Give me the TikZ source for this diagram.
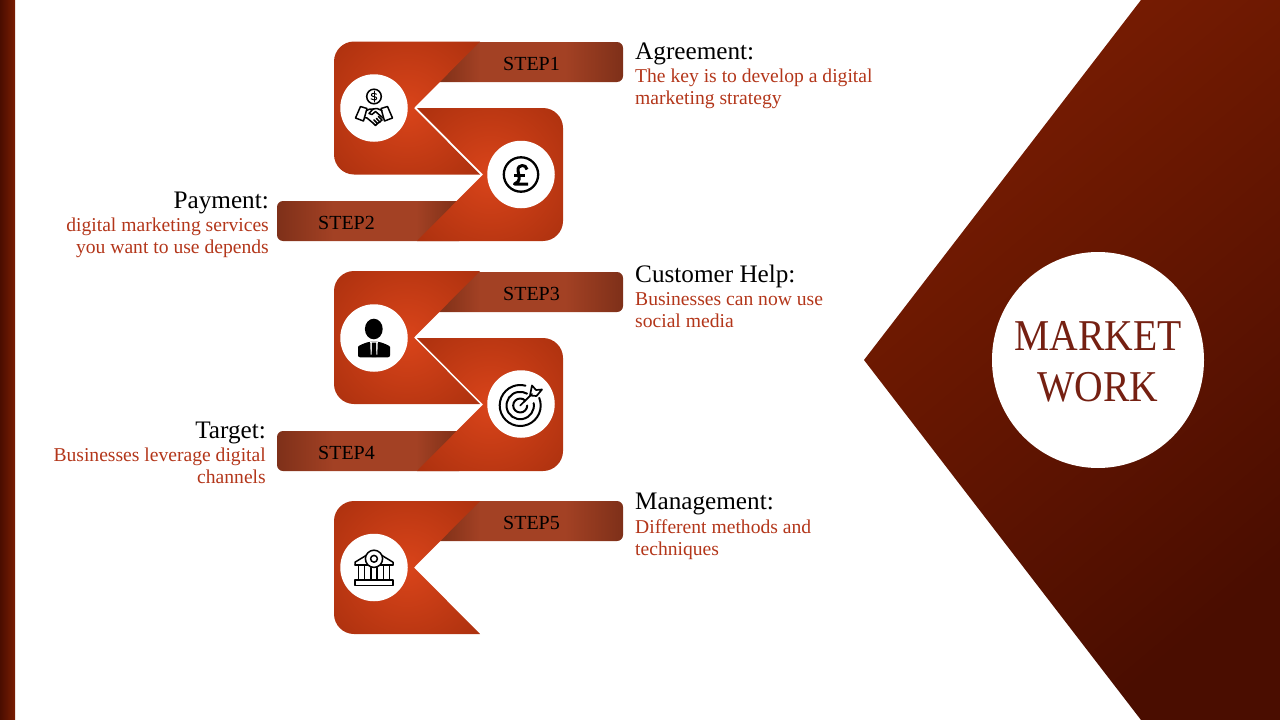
\documentclass[tikz,border=0pt]{standalone}
\usepackage{fontspec}
\setmainfont{Liberation Serif}
\newfontfamily\hubfont[FakeStretch=0.9]{Liberation Serif}
\usetikzlibrary{calc}
\definecolor{stepred}{HTML}{D9441A}
\definecolor{stepdark}{HTML}{AA300E}
\definecolor{barend}{HTML}{7E3019}
\definecolor{barnear}{HTML}{85331A}
\definecolor{barmid}{HTML}{A34124}
\definecolor{bodytext}{HTML}{B3361A}
\definecolor{hubtext}{HTML}{752012}
\definecolor{arrowlight}{HTML}{7A1D02}
\definecolor{arrowmid}{HTML}{651702}
\definecolor{arrowdark}{HTML}{4A0D00}
\pgfdeclarehorizontalshading{stepbar}{100bp}{color(0bp)=(barnear); color(25bp)=(barnear); color(29bp)=(barnear); color(38bp)=(barmid); color(60bp)=(barmid); color(75bp)=(barend); color(100bp)=(barend)}
\pgfdeclareradialshading{stepglow}{\pgfpointorigin}{color(0bp)=(stepred); color(20bp)=(stepdark); color(50bp)=(stepdark)}
\tikzset{
	iconline/.style={line width=1.5pt, draw=black, line join=round, line cap=round},
	iconback/.style={circle, fill=white, inner sep=0pt, minimum size=67.5pt},
	stepname/.style={inner sep=0pt, font=\fontsize{20}{20}\selectfont, text=black},
	headleft/.style={inner sep=0pt, anchor=base west, font=\fontsize{25.2}{25.2}\selectfont, text=black},
	headright/.style={inner sep=0pt, anchor=base east, font=\fontsize{25.2}{25.2}\selectfont, text=black},
	descleft/.style={inner sep=0pt, anchor=north west, align=left, font=\fontsize{19.6}{22}\selectfont, text=bodytext, execute at begin node=\rule{0pt}{14pt}},
	descright/.style={inner sep=0pt, anchor=north east, align=right, font=\fontsize{19.6}{22}\selectfont, text=bodytext, execute at begin node=\rule{0pt}{14pt}}
}
\def\stepblock[#1](#2,#3){\begin{scope}[shift={(#2,#3)},#1]
		\clip (73,-66.5) -- (-53,-66.5) .. controls (-64,-66.5) and (-73,-57.5) .. (-73,-46.5) -- (-73,46.5) .. controls (-73,57.5) and (-64,66.5) .. (-53,66.5) -- (73,66.5) -- (7,0) -- cycle;
		\shade[shading=stepglow] (0,0) circle (130);
	\end{scope}}
\def\ringarc[#1](#2)(#3:#4:#5){\draw[#1] ($(#2)+({#5*cos(#3)},{#5*sin(#3)})$) arc (#3:#4:#5);}

\begin{document}
\begin{tikzpicture}[x=1pt, y=-1pt]
	%%%%% START %%%%%
	\useasboundingbox (0,0) rectangle (1280,720);
	
	\shade[left color=arrowdark, right color=arrowlight] (0,0) rectangle (15,720);
	\shade[top color=arrowlight, middle color=arrowmid, bottom color=arrowdark, shading angle=40] (1141,0) -- (864,360) -- (1141,720) -- (1280,720) -- (1280,0) -- cycle;
	\fill[white] (1098,360) ellipse (106 and 108);
	\node[inner sep=0pt, align=center, text=hubtext, font=\hubfont\fontsize{44}{51}\selectfont] (hub) at (1098,362) {MARKET\\WORK};
	
	%%%%% BARS %%%%%
	\shade[shading=stepbar, rounded corners=6pt] (430,42) rectangle (623,82);
	\shade[shading=stepbar, shading angle=180, rounded corners=6pt] (277,201) rectangle (465,241);
	\shade[shading=stepbar, rounded corners=6pt] (430,272) rectangle (623,312);
	\shade[shading=stepbar, shading angle=180, rounded corners=6pt] (277,431) rectangle (465,471);
	\shade[shading=stepbar, rounded corners=6pt] (430,501) rectangle (623,541);
	
	%%%%% BLOCKS %%%%%
	\stepblock[](407,108);
	\stepblock[xscale=-1](490,174.5);
	\stepblock[](407,337.5);
	\stepblock[xscale=-1](490,404.5);
	\stepblock[](407,567.5);
	
	\node[stepname] (step1) at (531.5,64) {STEP1};
	\node[stepname] (step2) at (346.5,223) {STEP2};
	\node[stepname] (step3) at (531.5,294) {STEP3};
	\node[stepname] (step4) at (346.5,453) {STEP4};
	\node[stepname] (step5) at (531.5,523) {STEP5};
	
	\node[iconback] (badge1) at (374,108) {};
	\node[iconback] (badge2) at (521,174.5) {};
	\node[iconback] (badge3) at (374,338) {};
	\node[iconback] (badge4) at (521,404) {};
	\node[iconback] (badge5) at (374,567.5) {};
	
	%%%%% HANDSHAKE %%%%%
	\begin{scope}[shift={(badge1.center)}]
		\draw[iconline] (0,-11.5) circle (7.3);
		\draw[iconline, line width=1pt] (2.5,-13.8) .. controls (1,-15.5) and (-3,-15) .. (-2.6,-12.8) .. controls (-2.2,-10.8) and (2.8,-12) .. (2.7,-9.6) .. controls (2.5,-7.6) and (-1.5,-7.4) .. (-3,-9.2);
		\draw[iconline, line width=1pt] (0,-17) -- (0,-6);
		\draw[iconline] (-13.5,-1.5) -- (-7,0.5) -- (-10.5,13) -- (-18.5,10) -- cycle;
		\draw[iconline] (13.5,-1.5) -- (7,0.5) -- (10.5,13) -- (18.5,10) -- cycle;
		\draw[iconline] (-7.5,2.5) -- (-4,1) -- (-0.5,1.5);
		\draw[iconline] (8,2.5) -- (3,0.5) -- (-1,1) -- (-5,5.5) -- (-2,6.5) -- (1.5,3.5) -- (9,10);
		\draw[iconline] (-9.5,9.5) -- (-7,10) -- (-1,15) -- (1.5,17.5) -- (3.5,15.5) -- (0,12);
		\draw[iconline] (3.5,15.5) -- (5.8,14) -- (2.5,10.5);
		\draw[iconline] (5.8,14) -- (8,12) -- (4.5,8.5);
	\end{scope}
	
	%%%%% POUND %%%%%
	\begin{scope}[shift={(badge2.center)}]
		\draw[iconline, line width=2.3pt] (0,0) circle (17.2);
		\draw[iconline, line width=3pt, line cap=butt] (6,-5) .. controls (5.5,-10.5) and (-3.5,-10.5) .. (-3,-4) .. controls (-2.8,-1) and (-1.5,2) .. (-1.8,4.5) .. controls (-2,6.5) and (-3.5,8) .. (-6.5,9.5) -- (7,9.5);
		\draw[iconline, line width=2.4pt, line cap=butt] (-7,0.8) -- (3.5,0.8);
	\end{scope}
	
	%%%%% PERSON %%%%%
	\begin{scope}[shift={(badge3.center)}]
		\fill[black] (-0.2,-9) ellipse (8.9 and 10.3);
		\fill[black, rounded corners=2pt] (-16,19.3) -- (-16,11) .. controls (-16,7.5) and (-10,5.5) .. (-5,3.7) -- (5,3.7) .. controls (10,5.5) and (16,7.5) .. (16,11) -- (16,19.3) -- cycle;
		\fill[white] (-3.8,3.7) -- (3.8,3.7) -- (3.3,16.5) -- (-3.3,16.5) -- cycle;
		\fill[black] (-2,4.5) -- (2,4.5) -- (2.4,19) -- (-2.4,19) -- cycle;
		\fill[black] (-3.5,16.5) rectangle (3.5,19);
	\end{scope}
	
	%%%%% TARGET %%%%%
	\begin{scope}[shift={(badge4.center)}]
		\coordinate (aim) at (-0.8,1.5);
		\ringarc[iconline, line width=2pt](aim)(-22:285:20.5);
		\ringarc[iconline, line width=2pt](aim)(-10:300:13.7);
		\ringarc[iconline, line width=2pt](aim)(0:315:7);
		\draw[iconline, line width=1.7pt] (aim) -- (11,-10);
		\draw[iconline, line width=1.7pt] (9,-8.5) -- (11,-18.5) -- (15,-14) -- (21,-14.5) -- (15.5,-8) -- cycle;
	\end{scope}
	
	%%%%% BANK %%%%%
	\begin{scope}[shift={(badge5.center)}]
		\draw[iconline] (-19,-2.7) -- (-19,-5.3) -- (-8,-12);
		\draw[iconline] (19,-2.7) -- (19,-5.3) -- (8,-12);
		\draw[iconline] (-19,-2.7) -- (19,-2.7);
		\draw[iconline, fill=white] (0,-8.7) circle (8.6);
		\draw[iconline] (0,-8.7) circle (3.4);
		\draw[iconline] (-15.5,-2.7) -- (-15.5,12);
		\draw[iconline] (-9.5,-2.7) -- (-9.5,12);
		\draw[iconline] (-3,0) -- (-3,12);
		\draw[iconline] (3,0) -- (3,12);
		\draw[iconline] (9.5,-2.7) -- (9.5,12);
		\draw[iconline] (15.5,-2.7) -- (15.5,12);
		\draw[iconline] (-19,12.3) rectangle (19,18);
	\end{scope}
	
	%%%%% TEXTS %%%%%
	\node[headleft] (head1) at (635,59) {Agreement:};
	\node[descleft] (desc1) at (635,69) {The key is to develop a digital\\marketing strategy};
	\node[headright] (head2) at (269,208) {Payment:};
	\node[descright] (desc2) at (269,218) {digital marketing services\\you want to use depends};
	\node[headleft] (head3) at (635,282) {Customer Help:};
	\node[descleft] (desc3) at (635,292) {Businesses can now use\\social media};
	\node[headright] (head4) at (266,438) {Target:};
	\node[descright] (desc4) at (266,448) {Businesses leverage digital\\channels};
	\node[headleft] (head5) at (635,509) {Management:};
	\node[descleft] (desc5) at (635,519) {Different methods and\\techniques};
	%%%%% END %%%%%
\end{tikzpicture}
\end{document}
